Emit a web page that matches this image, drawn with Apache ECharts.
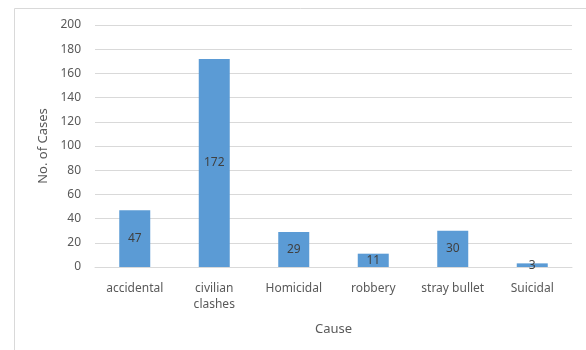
<!DOCTYPE html>
<html>
<head>
<meta charset="utf-8">
<script src="https://cdn.jsdelivr.net/npm/echarts@6/dist/echarts.min.js"></script>
<style>
  html, body { margin: 0; padding: 0; background: #fff; }
  #chart { width: 586px; height: 350px; }
</style>
</head>
<body>
<div id="chart"></div>
<script>
// data
var causes = ['accidental', 'civilian\nclashes', 'Homicidal', 'robbery', 'stray bullet', 'Suicidal'];
var cases = [47, 172, 29, 11, 30, 3];
var yTicks = [0, 200, 20]; // min, max, step

var font = '"Noto Sans", "Open Sans", sans-serif';

var chart = echarts.init(document.getElementById('chart'));

var option = {
    animation: false,
    textStyle: { fontFamily: font },
    // outer chart frame, only the top and left edges are in view
    graphic: [{
        type: 'rect',
        shape: { x: 14.5, y: 8.5, width: 700, height: 500 },
        style: { fill: 'none', stroke: '#d9d9d9', lineWidth: 1 },
        silent: true
    }],
    grid: { left: 95, right: 14, top: 25, bottom: 83 },
    xAxis: {
        type: 'category',
        data: causes,
        name: 'Cause',
        nameLocation: 'middle',
        nameGap: 56,
        nameTextStyle: { color: '#595959', fontSize: 13, fontFamily: font },
        axisLine: { lineStyle: { color: '#d9d9d9' } },
        axisTick: { show: false },
        axisLabel: { interval: 0, color: '#595959', fontSize: 12, margin: 14, lineHeight: 16, fontFamily: font }
    },
    yAxis: {
        type: 'value',
        min: yTicks[0],
        max: yTicks[1],
        interval: yTicks[2],
        name: 'No. of Cases',
        nameLocation: 'middle',
        nameGap: 45,
        nameTextStyle: { color: '#595959', fontSize: 13, fontFamily: font },
        axisLine: { show: false },
        axisTick: { show: false },
        axisLabel: { color: '#595959', fontSize: 12, margin: 14, fontFamily: font },
        splitLine: { lineStyle: { color: '#d9d9d9' } }
    },
    series: [{
        type: 'bar',
        data: cases,
        barWidth: 31,
        itemStyle: { color: '#5b9bd5' },
        label: {
            show: true,
            position: 'inside',
            color: '#404040',
            fontSize: 12,
            fontFamily: font
        }
    }]
};

chart.setOption(option);
</script>
</body>
</html>
